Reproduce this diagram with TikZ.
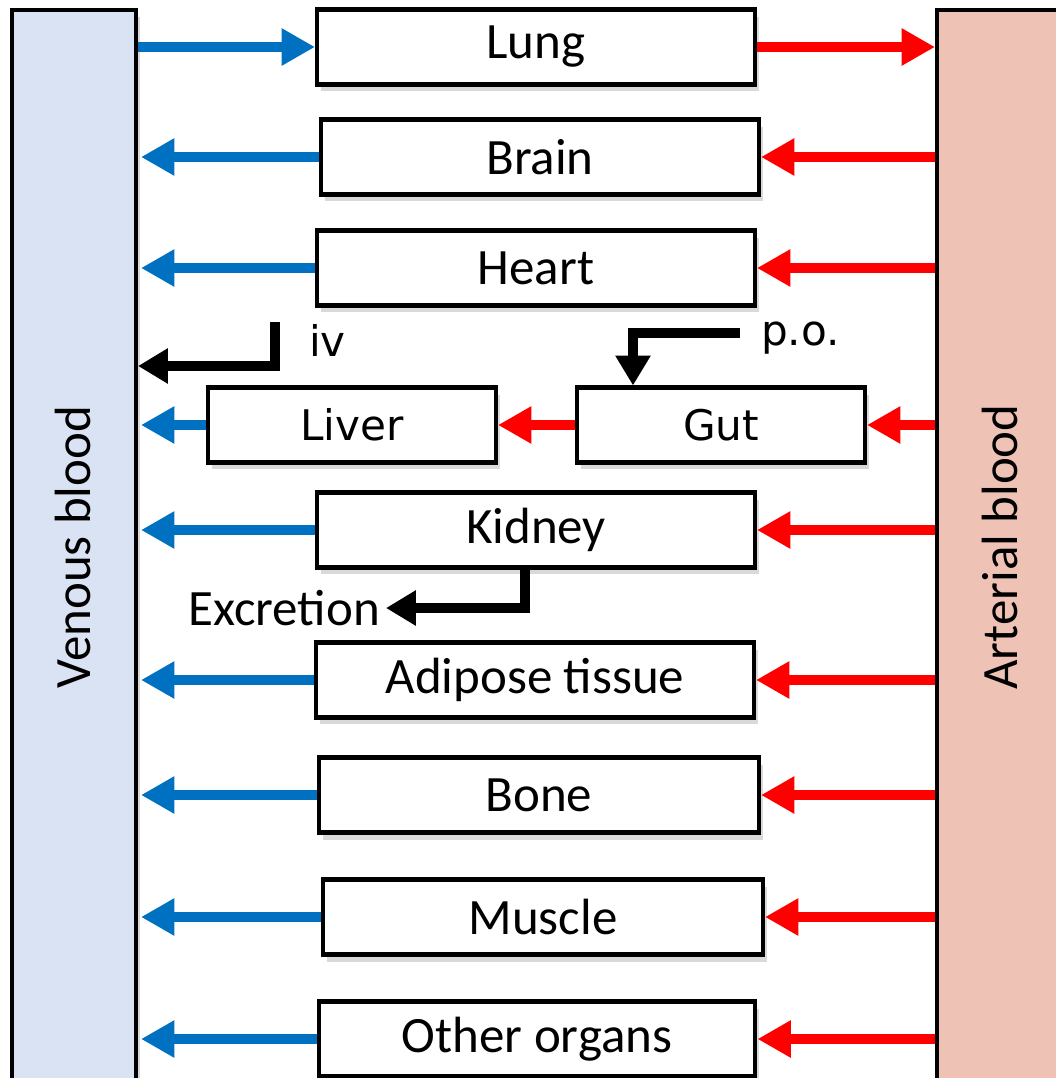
\documentclass[tikz,border=0pt]{standalone}
\usepackage{fontspec}
\setmainfont{Carlito}
\newfontfamily\dejavu{DejaVu Sans}
\usetikzlibrary{arrows.meta,shadows}
\definecolor{venafill}{HTML}{DAE3F3}
\definecolor{artefill}{HTML}{EFC2B6}
\definecolor{venablue}{HTML}{0070C0}

\begin{document}
\begin{tikzpicture}[x=0.02cm, y=-0.02cm,
    sombra/.style={drop shadow={shadow xshift=0.08cm, shadow yshift=-0.14cm, opacity=0.3}},
    organo/.style={draw, line width=2.3pt, fill=white, sombra, inner sep=0pt,
        minimum width=8.76cm, minimum height=1.5cm, font=\fontsize{29}{34}\selectfont},
    organochico/.style={organo, minimum width=5.76cm, font=\dejavu\fontsize{24}{28}\selectfont},
    sangre/.style={draw, line width=2.3pt, sombra, inner sep=0pt, minimum height=21.6cm},
    venosa/.style={-{Triangle[length=19pt,width=20pt]}, line width=5.7pt, draw=venablue},
    arteria/.style={-{Triangle[length=19pt,width=20pt]}, line width=5.7pt, draw=red},
    dosis/.style={-{Triangle[length=17pt,width=19pt]}, line width=5.7pt, draw=black}]

    \useasboundingbox (0,0) rectangle (1055,1078);

    % Sangre
    \node[sangre, fill=venafill, minimum width=2.48cm] (venous) at (74,550) {};
    \node[rotate=90, font=\fontsize{29}{34}\selectfont] (venouslabel) at (73,547) {Venous blood};
    \node[sangre, fill=artefill, minimum width=2.76cm] (arterial) at (1006,550) {};
    \node[rotate=90, font=\fontsize{29}{34}\selectfont] (arteriallabel) at (1000,547) {Arterial blood};

    % Organos
    \node[organo] (lung) at (536,47) {Lung};
    \node[organo] (brain) at (540,157) {Brain};
    \node[organo] (heart) at (536,268) {Heart};
    \node[organochico] (liver) at (352,425) {Liver};
    \node[organochico] (gut) at (721,425) {Gut};
    \node[organo] (kidney) at (536,530) {Kidney};
    \node[organo] (adipose) at (535,680) {Adipose tissue};
    \node[organo, minimum width=8.8cm] (bone) at (539,795) {Bone};
    \node[organo, minimum width=8.8cm] (muscle) at (543,917) {Muscle};
    \node[organo, minimum width=8.74cm] (other) at (537,1039) {Other organs};

    % Pulmon
    \draw[venosa] (venous.east |- lung.west) -- (lung.west);
    \draw[arteria] (lung.east) -- (arterial.west |- lung.east);

    % Retorno venoso y aporte arterial
    \foreach \o in {brain, heart, kidney, adipose, bone, muscle, other} {
        \draw[venosa] (\o.west) -- ([xshift=0.06cm]venous.east |- \o.west);
        \draw[arteria] (arterial.west |- \o.east) -- (\o.east);
    }
    \draw[venosa] (liver.west) -- ([xshift=0.06cm]venous.east |- liver.west);
    \draw[arteria] (gut.west) -- (liver.east);
    \draw[arteria] (arterial.west |- gut.east) -- (gut.east);

    % Administracion
    \coordinate (ivin) at (275,322);
    \coordinate (ivout) at (138,366);
    \draw[dosis] (ivin) |- (ivout);
    \node[font=\dejavu\fontsize{24}{28}\selectfont, anchor=west] (iv) at (303,340) {iv};

    \coordinate (poin) at (740,333);
    \draw[dosis] (poin) -| ([xshift=1.16cm]gut.north west);
    \node[font=\dejavu\fontsize{24}{28}\selectfont, anchor=west] (po) at (755,338) {p.o.};

    % Excrecion
    \node[font=\fontsize{29}{34}\selectfont] (excretion) at (284,608) {Excretion};
    \draw[dosis] ([xshift=4.2cm]kidney.south west) |- (excretion.east);

\end{tikzpicture}
\end{document}
